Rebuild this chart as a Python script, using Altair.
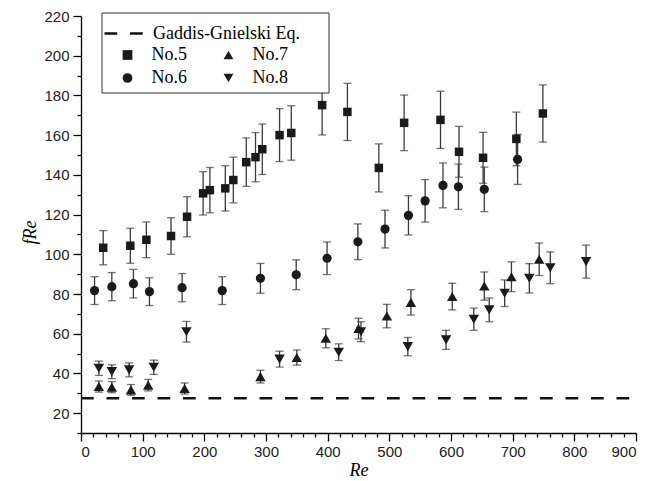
import altair as alt
import pandas as pd

# ---- data ----
s5_x = [36, 80, 106, 146, 172, 198, 209, 234, 247, 268, 283, 294, 322, 341, 391, 432, 483, 524, 583, 613, 652, 706, 749]
s5_y = [103.3, 104.3, 107.3, 109.2, 118.9, 130.7, 132.3, 133.2, 137.4, 146.4, 148.9, 152.9, 160.0, 161.1, 175.1, 171.7, 143.5, 166.2, 167.7, 151.6, 148.6, 158.1, 170.9]
s5_e = [8.6, 8.8, 9.0, 9.2, 10.1, 10.9, 11.4, 11.4, 11.5, 12.2, 12.4, 12.7, 13.3, 13.7, 15.0, 14.4, 12.1, 14.0, 14.4, 12.8, 12.8, 13.5, 14.4]

s6_x = [22, 50, 85, 111, 164, 229, 291, 349, 399, 449, 493, 531, 558, 587, 612, 654, 708]
s6_y = [81.7, 83.7, 85.2, 81.2, 83.2, 81.7, 87.9, 89.7, 98.0, 106.3, 112.7, 119.6, 126.9, 134.7, 134.0, 132.7, 147.8]
s6_e = [7.0, 7.1, 7.2, 7.0, 7.1, 7.0, 7.5, 7.5, 8.2, 9.0, 9.5, 9.9, 10.7, 11.3, 11.4, 11.2, 12.6]

s7_x = [29, 50, 81, 109, 168, 291, 350, 397, 450, 496, 535, 602, 654, 698, 743]
s7_y = [33.4, 33.1, 31.7, 34.1, 32.4, 38.4, 48.0, 57.7, 62.6, 68.9, 75.8, 78.7, 84.0, 88.7, 97.5]
s7_e = [2.8, 2.8, 2.7, 2.9, 2.8, 3.2, 3.8, 4.8, 5.2, 5.9, 6.4, 6.7, 7.1, 7.5, 8.2]

s8_x = [29, 50, 78, 118, 171, 322, 418, 454, 530, 592, 637, 662, 687, 727, 761, 819]
s8_y = [42.6, 40.9, 41.8, 43.1, 61.0, 47.2, 50.7, 61.0, 53.5, 56.9, 67.3, 72.0, 80.4, 87.9, 93.2, 96.3]
s8_e = [3.6, 3.5, 3.5, 3.6, 5.2, 4.0, 4.2, 5.0, 4.6, 4.8, 5.6, 6.0, 6.7, 7.4, 8.0, 8.3]

samples = ["No.5", "No.6", "No.7", "No.8"]
shapes = ["square", "circle", "triangle-up", "triangle-down"]
sizes = [72, 85, 110, 110]

gg_name = "Gaddis-Gnielski Eq."
gg_x = [0, 900]
gg_y = [27.5, 27.5]

x_ticks = list(range(0, 901, 20))
y_ticks = list(range(10, 221, 10))

# ---- tables ----
rows = []
for name, xs, ys, es in [("No.5", s5_x, s5_y, s5_e), ("No.6", s6_x, s6_y, s6_e),
                         ("No.7", s7_x, s7_y, s7_e), ("No.8", s8_x, s8_y, s8_e)]:
    for x, y, e in zip(xs, ys, es):
        rows.append({"sample": name, "Re": x, "fRe": y, "lo": y - e, "hi": y + e})
df = pd.DataFrame(rows)
caps = pd.concat([
    df[["Re", "lo"]].rename(columns={"lo": "yc"}),
    df[["Re", "hi"]].rename(columns={"hi": "yc"}),
])
gg = pd.DataFrame({"Re": gg_x, "fRe": gg_y, "name": [gg_name] * len(gg_x)})

INK = "#1a1a1a"
SERIF = "Liberation Serif"
SANS = "Liberation Sans"

x_axis = alt.Axis(
    values=x_ticks, grid=False, title="Re",
    labelExpr="datum.value % 100 === 0 ? datum.label : ''", labelOverlap=False,
    tickSize={"condition": {"test": "datum.value % 100 === 0", "value": 8}, "value": 4},
    labelPadding=3, titlePadding=2,
)
y_axis = alt.Axis(
    values=y_ticks, grid=False, title="fRe",
    labelExpr="datum.value % 20 === 0 ? datum.label : ''", labelOverlap=False,
    tickSize={"condition": {"test": "datum.value % 20 === 0", "value": 8}, "value": 4},
    labelPadding=4, titlePadding=4, titleY=216,
)
ysc = alt.Scale(domain=[10, 220], nice=False, zero=False)
X = alt.X("Re:Q", scale=alt.Scale(domain=[0, 900], nice=False, zero=False), axis=x_axis)
Y = alt.Y("fRe:Q", scale=ysc, axis=y_axis)

line = alt.Chart(gg).mark_line(strokeWidth=2.6, color="#111").encode(
    x=X, y=Y,
    strokeDash=alt.StrokeDash(
        "name:N",
        scale=alt.Scale(domain=[gg_name], range=[[12.7, 12.8]]),
        legend=alt.Legend(
            title=None, orient="none", legendX=22, legendY=-3.5, padding=0,
            symbolType="stroke", symbolSize=1521, symbolStrokeWidth=2.6,
            symbolStrokeColor="#111", labelOffset=8,
            labelFont=SERIF, labelFontSize=18, labelColor="black",
        ),
    ),
)

rules = alt.Chart(df).mark_rule(color="#3a3a3a", strokeWidth=1.3).encode(
    x=X, y=alt.Y("lo:Q", scale=ysc, axis=y_axis), y2="hi:Q",
)

capmarks = alt.Chart(caps).mark_tick(orient="horizontal", size=8, thickness=1.3, color="#3a3a3a").encode(
    x=X, y=alt.Y("yc:Q", scale=ysc, axis=y_axis),
)

points = alt.Chart(df).mark_point(filled=True, opacity=1, color=INK, strokeWidth=0).encode(
    x=X, y=Y,
    shape=alt.Shape(
        "sample:N",
        scale=alt.Scale(domain=samples, range=shapes),
        legend=alt.Legend(
            title=None, orient="none", legendX=37.5, legendY=30, padding=0,
            columns=2, columnPadding=32, rowPadding=5,
            symbolSize=95, symbolFillColor=INK, symbolStrokeWidth=0,
            labelOffset=15, labelFont=SERIF, labelFontSize=18, labelColor="black",
        ),
    ),
    size=alt.Size("sample:N", scale=alt.Scale(type="ordinal", domain=samples, range=sizes), legend=None),
)

box = alt.Chart(pd.DataFrame({"k": [0]})).mark_rect(fill="white", stroke="#333", strokeWidth=1).encode(
    x=alt.value(21), x2=alt.value(248), y=alt.value(-3), y2=alt.value(77),
)

chart = alt.layer(line, rules, capmarks, points, box).properties(
    width=555, height=417,
    padding={"left": 81, "top": 16, "right": 29, "bottom": 48},
    autosize=alt.AutoSizeParams(type="none"),
).resolve_scale(shape="independent", strokeDash="independent").configure_view(
    stroke=None
).configure_axis(
    domainColor="black", domainWidth=1.3, tickColor="black", tickWidth=1.3,
    labelFont=SANS, labelFontSize=15, labelColor="#222",
    titleFont=SERIF, titleFontSize=18, titleFontStyle="italic",
    titleFontWeight="normal", titleColor="black",
)

chart.save("out.html", embed_options={"renderer": "svg", "actions": False})
